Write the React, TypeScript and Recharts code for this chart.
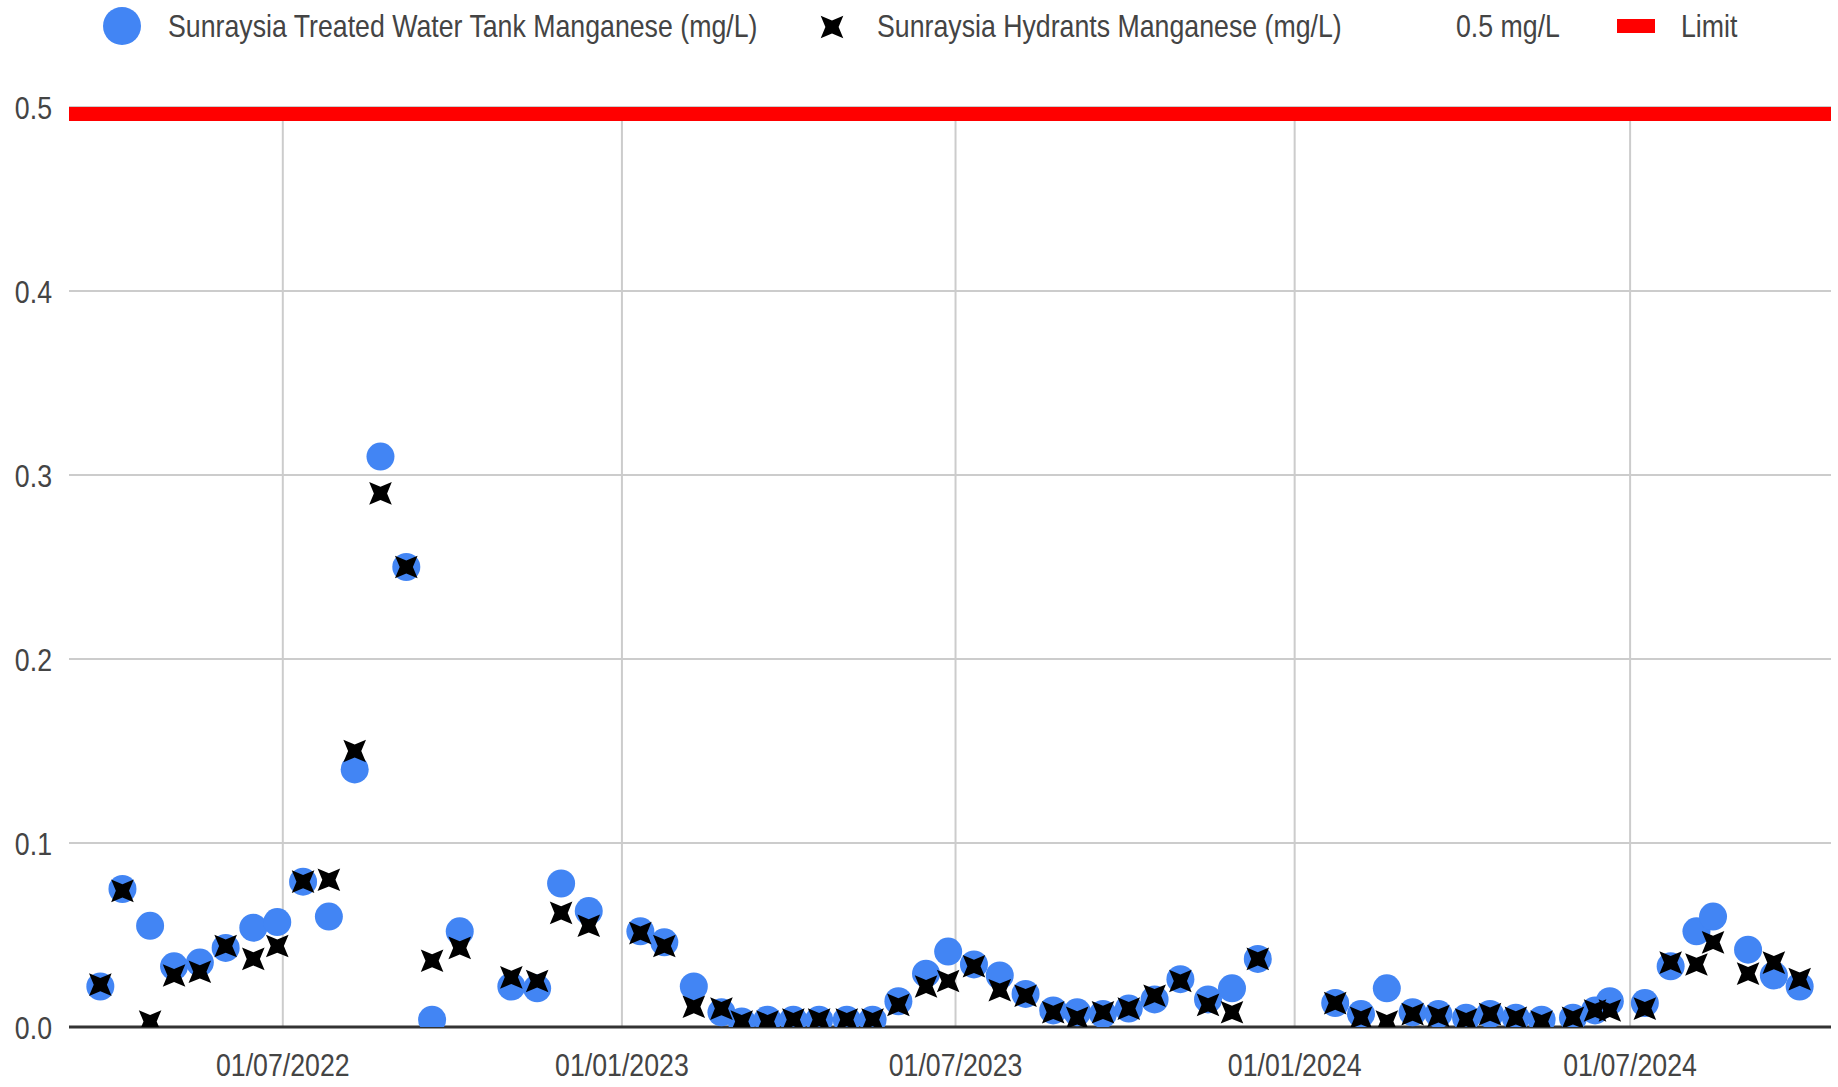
import React from 'react';
import { ScatterChart, Scatter, XAxis, YAxis, CartesianGrid, ReferenceLine } from 'recharts';

// ---- data ----
const sampleDates = [
  '2022-03-24', '2022-04-05', '2022-04-20', '2022-05-03', '2022-05-17', '2022-05-31',
  '2022-06-15', '2022-06-28', '2022-07-12', '2022-07-26', '2022-08-09', '2022-08-23',
  '2022-09-06', '2022-09-20', '2022-10-05', '2022-11-02', '2022-11-16', '2022-11-29',
  '2022-12-14', '2023-01-11', '2023-01-24', '2023-02-09', '2023-02-24', '2023-03-07',
  '2023-03-21', '2023-04-04', '2023-04-18', '2023-05-03', '2023-05-17', '2023-05-31',
  '2023-06-15', '2023-06-27', '2023-07-11', '2023-07-25', '2023-08-08', '2023-08-23',
  '2023-09-05', '2023-09-19', '2023-10-03', '2023-10-17', '2023-10-31', '2023-11-15',
  '2023-11-28', '2023-12-12', '2024-01-23', '2024-02-06', '2024-02-20', '2024-03-05',
  '2024-03-19', '2024-04-03', '2024-04-16', '2024-04-30', '2024-05-14', '2024-05-31',
  '2024-06-12', '2024-06-20', '2024-07-09', '2024-07-23', '2024-08-06', '2024-08-15',
  '2024-09-03', '2024-09-17', '2024-10-01',
];

const tankManganese = [
  0.022, 0.075, 0.055, 0.033, 0.035, 0.043,
  0.054, 0.057, 0.079, 0.060, 0.140, 0.310,
  0.250, 0.004, 0.052, 0.022, 0.021, 0.078,
  0.063, 0.052, 0.046, 0.022, 0.008, 0.003,
  0.004, 0.004, 0.004, 0.004, 0.004, 0.014,
  0.029, 0.041, 0.034, 0.028, 0.018, 0.009,
  0.008, 0.007, 0.010, 0.015, 0.026, 0.015,
  0.021, 0.037, 0.013, 0.007, 0.021, 0.008,
  0.007, 0.005, 0.007, 0.005, 0.004, 0.005,
  0.009, 0.014, 0.013, 0.033, 0.052, 0.060,
  0.042, 0.028, 0.022,
];

const hydrantManganese = [
  0.023, 0.074, 0.003, 0.028, 0.030, 0.044,
  0.037, 0.044, 0.079, 0.080, 0.150, 0.290,
  0.250, 0.036, 0.043, 0.027, 0.025, 0.062,
  0.055, 0.051, 0.044, 0.011, 0.010, 0.003,
  0.003, 0.004, 0.004, 0.004, 0.004, 0.012,
  0.022, 0.025, 0.033, 0.020, 0.017, 0.008,
  0.005, 0.008, 0.010, 0.017, 0.025, 0.012,
  0.008, 0.037, 0.013, 0.005, 0.003, 0.007,
  0.006, 0.004, 0.007, 0.005, 0.003, 0.005,
  0.009, 0.009, 0.010, 0.035, 0.034, 0.046,
  0.029, 0.035, 0.026,
];

const limitValue = 0.5;
const xDomainDates = ['2022-03-07', '2024-10-18'];
const xTickDates = ['2022-07-01', '2023-01-01', '2023-07-01', '2024-01-01', '2024-07-01'];
const xTickLabels = ['01/07/2022', '01/01/2023', '01/07/2023', '01/01/2024', '01/07/2024'];
const yTicks = [0, 0.1, 0.2, 0.3, 0.4, 0.5];
const yTickLabels = ['0.0', '0.1', '0.2', '0.3', '0.4', '0.5'];
const legendLabels = [
  'Sunraysia Treated Water Tank Manganese (mg/L)',
  'Sunraysia Hydrants Manganese (mg/L)',
  '0.5 mg/L',
  'Limit',
];

// ---- derived ----
const toTime = (s: string) => Date.parse(s);
const xTickTimes = xTickDates.map(toTime);
const xDomain = xDomainDates.map(toTime);
const tankData = sampleDates.map((d, i) => ({ t: toTime(d), v: tankManganese[i] }));
const hydrantData = sampleDates.map((d, i) => ({ t: toTime(d), v: hydrantManganese[i] }));

// ---- styles ----
const W = 1838;
const H = 1087;
const FONT = '"Liberation Sans", Arial, sans-serif';
const FONT_SIZE = 32;
const NARROW = 0.835;
const TEXT_COLOR = '#444';
const BLUE = '#4285f4';
const RED = '#ff0000';
const GRID = '#cccccc';
const STAR_R = 16;
const STAR_INNER = 6.6;

function starPath(cx: number, cy: number, R: number, r: number) {
  const pts: string[] = [];
  for (let k = 0; k < 8; k++) {
    const ang = Math.PI / 4 + (k * Math.PI) / 4;
    const rad = k % 2 === 0 ? R : r;
    pts.push(`${(cx + rad * Math.cos(ang)).toFixed(2)},${(cy + rad * Math.sin(ang)).toFixed(2)}`);
  }
  return 'M' + pts.join('L') + 'Z';
}

const CircleShape = (props: any) => {
  const { cx, cy } = props;
  if (cx == null || cy == null) return null;
  return <circle cx={cx} cy={cy} r={14} fill={BLUE} />;
};

const StarShape = (props: any) => {
  const { cx, cy } = props;
  if (cx == null || cy == null) return null;
  return <path d={starPath(cx, cy, STAR_R, STAR_INNER)} fill="#000" />;
};

const NarrowText = ({ x, y, anchor, children, fill = TEXT_COLOR }: any) => (
  <g transform={`translate(${x},${y})`}>
    <text
      transform={`scale(${NARROW},1)`}
      textAnchor={anchor}
      fontFamily={FONT}
      fontSize={FONT_SIZE}
      fill={fill}
    >
      {children}
    </text>
  </g>
);

const XTick = (props: any) => {
  const { x, y, payload } = props;
  const i = xTickTimes.indexOf(payload.value);
  return (
    <NarrowText x={x} y={y + 48.5} anchor="middle">
      {i >= 0 ? xTickLabels[i] : ''}
    </NarrowText>
  );
};

const YTick = (props: any) => {
  const { x, y, payload } = props;
  const i = yTicks.indexOf(payload.value);
  return (
    <NarrowText x={x} y={y + 11.5} anchor="end">
      {i >= 0 ? yTickLabels[i] : ''}
    </NarrowText>
  );
};

const LegendBar = () => (
  <svg width={W} height={60} style={{ position: 'absolute', left: 0, top: 0 }}>
    <circle cx={122} cy={26} r={19} fill={BLUE} />
    <NarrowText x={168} y={37} anchor="start">{legendLabels[0]}</NarrowText>
    <path d={starPath(832, 27, STAR_R, STAR_INNER)} fill="#000" />
    <NarrowText x={877} y={37} anchor="start">{legendLabels[1]}</NarrowText>
    <NarrowText x={1456} y={37} anchor="start">{legendLabels[2]}</NarrowText>
    <rect x={1617} y={19} width={38} height={14} fill={RED} />
    <NarrowText x={1681} y={37} anchor="start">{legendLabels[3]}</NarrowText>
  </svg>
);

export default function App() {
  return (
    <div style={{ position: 'absolute', left: 0, top: 0, width: W, height: H, background: '#fff' }}>
      <ScatterChart
        width={W}
        height={H}
        margin={{ top: 107, right: 7, bottom: 0, left: 8 }}
      >
        <CartesianGrid stroke={GRID} strokeWidth={2} vertical={false} />
        <XAxis
          type="number"
          dataKey="t"
          domain={xDomain}
          ticks={xTickTimes}
          allowDataOverflow
          height={60}
          tick={<XTick />}
          tickLine={false}
          tickSize={0}
          tickMargin={0}
          axisLine={{ stroke: '#333', strokeWidth: 3 }}
        />
        <YAxis
          type="number"
          dataKey="v"
          domain={[0, 0.5]}
          ticks={yTicks}
          allowDataOverflow
          width={61}
          tick={<YTick />}
          tickLine={false}
          tickSize={0}
          tickMargin={17}
          axisLine={false}
        />
        {xTickTimes.map((t) => (
          <ReferenceLine key={t} x={t} stroke={GRID} strokeWidth={2} ifOverflow="hidden" />
        ))}
        <ReferenceLine y={limitValue} stroke={RED} strokeWidth={28} ifOverflow="hidden" />
        <Scatter
          name={legendLabels[0]}
          data={tankData}
          shape={CircleShape}
          isAnimationActive={false}
        />
        <Scatter
          name={legendLabels[1]}
          data={hydrantData}
          shape={StarShape}
          isAnimationActive={false}
        />
      </ScatterChart>
      <LegendBar />
    </div>
  );
}
